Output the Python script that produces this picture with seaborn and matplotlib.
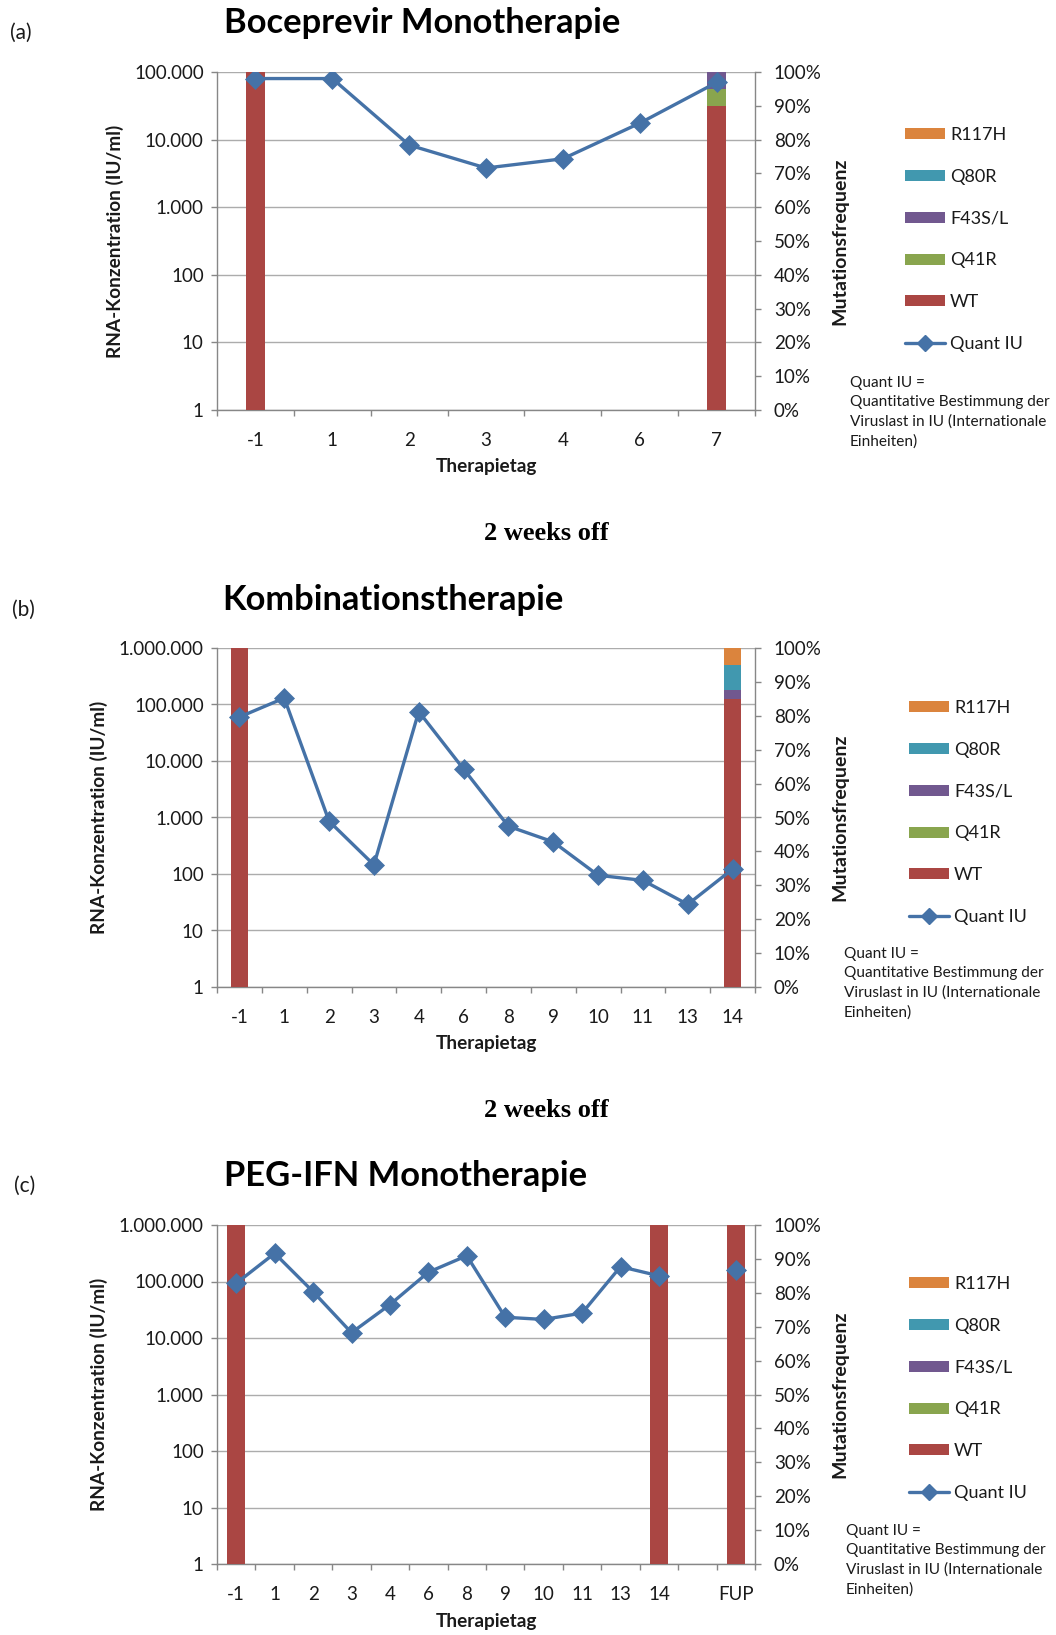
import numpy as np
import pandas as pd
import matplotlib
matplotlib.use("Agg")
import matplotlib.pyplot as plt
import seaborn as sns
from matplotlib.patches import Patch
from matplotlib.lines import Line2D
from matplotlib.ticker import FixedLocator, FuncFormatter, NullLocator

sns.set_theme(style="white")
plt.rcParams['font.family'] = ['Lato', 'DejaVu Sans']

# ---------------- data ----------------
# (a) Boceprevir Monotherapie
days_a = ["-1", "1", "2", "3", "4", "6", "7"]
quant_a = [80000, 80000, 8300, 3800, 5200, 17500, 70000]
wt_a = [100, 0, 0, 0, 0, 0, 90]
q41r_a = [0, 0, 0, 0, 0, 0, 5]
f43_a = [0, 0, 0, 0, 0, 0, 5]
q80r_a = [0, 0, 0, 0, 0, 0, 0]
r117h_a = [0, 0, 0, 0, 0, 0, 0]

# (b) Kombinationstherapie
days_b = ["-1", "1", "2", "3", "4", "6", "8", "9", "10", "11", "13", "14"]
quant_b = [60000, 130000, 860, 145, 75000, 7200, 700, 370, 95, 77, 29, 122]
wt_b = [100, 0, 0, 0, 0, 0, 0, 0, 0, 0, 0, 85]
q41r_b = [0, 0, 0, 0, 0, 0, 0, 0, 0, 0, 0, 0]
f43_b = [0, 0, 0, 0, 0, 0, 0, 0, 0, 0, 0, 2.5]
q80r_b = [0, 0, 0, 0, 0, 0, 0, 0, 0, 0, 0, 7.5]
r117h_b = [0, 0, 0, 0, 0, 0, 0, 0, 0, 0, 0, 5]

# (c) PEG-IFN Monotherapie
days_c = ["-1", "1", "2", "3", "4", "6", "8", "9", "10", "11", "13", "14", "", "FUP"]
quant_c = [93000, 315000, 66000, 12400, 39000, 146000, 286000, 23300, 21300,
           27600, 183000, 126000, np.nan, 158000]
wt_c = [100, 0, 0, 0, 0, 0, 0, 0, 0, 0, 0, 100, 0, 100]
q41r_c = [0] * 14
f43_c = [0] * 14
q80r_c = [0] * 14
r117h_c = [0] * 14

layer_names = ["WT", "Q41R", "F43S/L", "Q80R", "R117H"]
legend_order = ["R117H", "Q80R", "F43S/L", "Q41R", "WT"]

# ---------------- style ----------------
BLUE = "#4572A7"
COLORS = {"WT": "#AA4643", "Q41R": "#89A54E", "F43S/L": "#71588F",
          "Q80R": "#4198AF", "R117H": "#DB843D"}
GRID = "#acacac"
SPINE = "#878787"
TXT = "#1a1a1a"

W, H = 1056, 1635
fig = plt.figure(figsize=(W / 100, H / 100), dpi=100)


def fx(p):
    return p / W


def fy(p):
    return 1 - p / H


def thousands(v, pos):
    return f"{int(round(v)):,}".replace(",", ".")


def draw_panel(days, quant, layers, ymax_exp, top, bottom, bar_w, title, title_xy,
               letter, letter_xy, ylabel_x, xlabel_y, legend_xy, note_xy):
    left, right = 217, 755
    ax = fig.add_axes([fx(left), fy(bottom), (right - left) / W, (bottom - top) / H])
    n = len(days)
    pos = np.arange(n)

    # primary (log) axis with gridlines
    ax.set_yscale("log")
    ax.set_ylim(1, 10 ** ymax_exp)
    ax.yaxis.set_major_locator(FixedLocator([10 ** k for k in range(ymax_exp + 1)]))
    ax.yaxis.set_minor_locator(NullLocator())
    ax.yaxis.set_major_formatter(FuncFormatter(thousands))
    ax.grid(axis="y", color=GRID, lw=1.0)
    ax.grid(axis="x", visible=False)
    ax.set_axisbelow(True)
    for s in ["top", "right"]:
        ax.spines[s].set_visible(False)
    for s in ["left", "bottom"]:
        ax.spines[s].set_color(SPINE)
        ax.spines[s].set_linewidth(1.0)
    ax.set_xticks(np.arange(n + 1) - 0.5)
    ax.set_xticklabels([])
    ax.set_xticks(pos, labels=days, minor=True)
    ax.tick_params(axis="x", which="major", direction="out", length=4.5,
                   color=SPINE, width=1, bottom=True)
    ax.tick_params(axis="x", which="minor", length=0, pad=16, labelsize=13.5,
                   labelcolor=TXT, bottom=True)
    ax.tick_params(axis="y", which="major", direction="out", length=4.5, color=SPINE,
                   width=1, labelsize=13.5, labelcolor=TXT, pad=5, left=True)
    ax.set_zorder(1)

    # bars (percent axis)
    ax2 = ax.twinx()
    bottoms = np.zeros(n)
    for name in layer_names:
        vals = np.asarray(layers[name], dtype=float)
        ax2.bar(pos, vals, bottom=bottoms, width=bar_w, color=COLORS[name],
                linewidth=0)
        bottoms = bottoms + vals
    ax2.set_ylim(0, 100)
    ax2.yaxis.set_major_locator(FixedLocator(np.arange(0, 101, 10)))
    ax2.yaxis.set_major_formatter(FuncFormatter(lambda v, p: f"{int(v)}%"))
    ax2.tick_params(axis="y", direction="out", length=4.5, color=SPINE, width=1,
                    labelsize=13.5, labelcolor=TXT, pad=9, right=True)
    ax2.grid(False)
    for s in ["top", "left", "bottom"]:
        ax2.spines[s].set_visible(False)
    ax2.spines["right"].set_color(SPINE)
    ax2.spines["right"].set_linewidth(1.0)
    ax2.set_zorder(2)

    # line (log axis on top)
    ax3 = ax.twinx()
    q = np.asarray(quant, dtype=float)
    seg = np.cumsum(np.isnan(q))
    df = pd.DataFrame({"pos": pos, "quant": q, "seg": seg}).dropna()
    sns.lineplot(data=df, x="pos", y="quant", units="seg", estimator=None, sort=False,
                 ax=ax3, color=BLUE, lw=2.4, marker="D", markersize=10,
                 markeredgecolor=BLUE, markeredgewidth=0.5, legend=False)
    ax3.set_yscale("log")
    ax3.set_ylim(1, 10 ** ymax_exp)
    ax3.yaxis.set_visible(False)
    ax3.grid(False)
    for s in ax3.spines.values():
        s.set_visible(False)
    ax3.set_xlabel("")
    ax3.set_ylabel("")
    ax3.set_zorder(3)
    ax.set_xlim(-0.5, n - 0.5)

    # texts
    fig.text(fx(title_xy[0]), fy(title_xy[1]), title, fontsize=24.8, fontweight="bold",
             color="black", ha="left", va="center")
    fig.text(fx(letter_xy[0]), fy(letter_xy[1]), letter, fontsize=15, color=TXT,
             ha="left", va="center")
    fig.text(fx(ylabel_x), fy((top + bottom) / 2), "RNA-Konzentration (IU/ml)",
             rotation=90, fontsize=13.7, fontweight="bold", color=TXT,
             ha="center", va="center")
    fig.text(fx(840), fy((top + bottom) / 2), "Mutationsfrequenz",
             rotation=90, fontsize=14, fontweight="bold", color=TXT,
             ha="center", va="center")
    fig.text(fx((left + right) / 2), fy(xlabel_y), "Therapietag", fontsize=13.7,
             fontweight="bold", color=TXT, ha="center", va="center")

    handles = [Patch(facecolor=COLORS[nm], edgecolor="none") for nm in legend_order]
    handles.append(Line2D([], [], color=BLUE, lw=2.4, marker="D", markersize=8))
    labels = legend_order + ["Quant IU"]
    fig.legend(handles, labels, loc="upper left",
               bbox_to_anchor=(fx(legend_xy[0]), fy(legend_xy[1])),
               bbox_transform=fig.transFigure, frameon=False, fontsize=13,
               handlelength=2.2, handleheight=0.55, labelspacing=1.43,
               handletextpad=0.3, borderaxespad=0, borderpad=0, labelcolor=TXT)
    fig.text(fx(note_xy[0]), fy(note_xy[1]),
             "Quant IU =\nQuantitative Bestimmung der\nViruslast in IU (Internationale\nEinheiten)",
             fontsize=11.1, color=TXT, ha="left", va="top", linespacing=1.48)


layers_a = {"WT": wt_a, "Q41R": q41r_a, "F43S/L": f43_a, "Q80R": q80r_a, "R117H": r117h_a}
layers_b = {"WT": wt_b, "Q41R": q41r_b, "F43S/L": f43_b, "Q80R": q80r_b, "R117H": r117h_b}
layers_c = {"WT": wt_c, "Q41R": q41r_c, "F43S/L": f43_c, "Q80R": q80r_c, "R117H": r117h_c}

draw_panel(days_a, quant_a, layers_a, 5, 72, 410, 0.245, "Boceprevir Monotherapie",
           (224, 23), "(a)", (10, 33), 115, 466, (905, 127), (850, 376))
draw_panel(days_b, quant_b, layers_b, 6, 648, 987, 0.395, "Kombinationstherapie",
           (222, 600), "(b)", (12, 610), 99, 1043, (909, 700), (844, 947))
draw_panel(days_c, quant_c, layers_c, 6, 1225, 1564, 0.46, "PEG-IFN Monotherapie",
           (224, 1176), "(c)", (14, 1186), 99, 1621, (909, 1276), (846, 1524))

for yy in (534, 1110):
    fig.text(fx(546), fy(yy), "2 weeks off", fontsize=19, fontweight="bold",
             family=["Liberation Serif", "DejaVu Serif"], color="black",
             ha="center", va="center")

fig.savefig("out.png", dpi=100, facecolor="white")
